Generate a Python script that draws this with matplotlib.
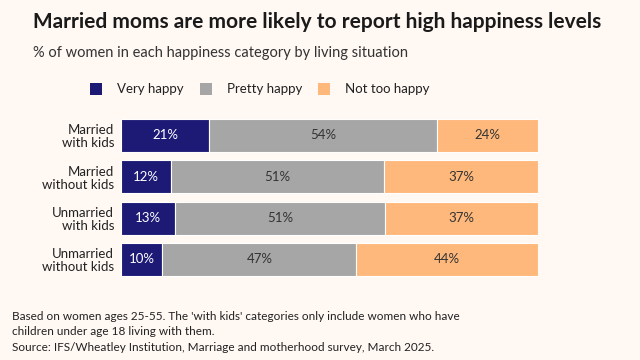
import numpy as np
import matplotlib.pyplot as plt
from matplotlib.patches import Rectangle

plt.rcParams["font.family"] = ["Lato", "DejaVu Sans"]

groups = ["Married\nwith kids", "Married\nwithout kids", "Unmarried\nwith kids", "Unmarried\nwithout kids"]
series = ["Very happy", "Pretty happy", "Not too happy"]
very_happy = [21, 12, 13, 10]
pretty_happy = [54, 51, 51, 47]
not_too_happy = [24, 37, 37, 44]

colors = ["#1d1a76", "#a6a6a6", "#ffb87b"]
text_colors = ["white", "#333333", "#333333"]
bg = "#fff8f3"

vals = np.array([very_happy, pretty_happy, not_too_happy], dtype=float)
shares = vals / vals.sum(axis=0) * 100  # rows drawn to full width

fig = plt.figure(figsize=(6.4, 3.6), dpi=100, facecolor=bg)
ax = fig.add_axes([0.189, 0.222, 0.652, 0.459])
ax.set_facecolor(bg)

y = np.arange(len(groups))
left = np.zeros(len(groups))
for i, name in enumerate(series):
    ax.barh(y, shares[i], left=left, height=0.8, color=colors[i],
            edgecolor="white", linewidth=0.8, label=name)
    for j in range(len(groups)):
        ax.text(left[j] + shares[i][j] / 2, y[j], f"{int(vals[i][j])}%",
                ha="center", va="center", fontsize=9.5, color=text_colors[i])
    left += shares[i]

ax.set_xlim(0, 100)
ax.set_ylim(len(groups) - 0.5, -0.5)
ax.set_yticks(y)
ax.set_yticklabels(groups, fontsize=9.5, color="#222222", linespacing=1.1)
ax.tick_params(axis="y", length=0, pad=5)
ax.set_xticks([])
for s in ax.spines.values():
    s.set_visible(False)

fig.text(0.052, 0.94, "Married moms are more likely to report high happiness levels",
         fontsize=15, fontweight="bold", color="#1a1a1a", va="center")
fig.text(0.052, 0.853, "% of women in each happiness category by living situation",
         fontsize=10.5, color="#333333", va="center")

# legend row
lx = [0.141, 0.313, 0.497]
for i, name in enumerate(series):
    fig.patches.append(Rectangle((lx[i], 0.735), 0.019, 0.034, transform=fig.transFigure,
                                 facecolor=colors[i], edgecolor="none"))
    fig.text(lx[i] + 0.042, 0.752, name, fontsize=9.5, color="#222222", va="center")

notes = ("Based on women ages 25-55. The 'with kids' categories only include women who have\n"
         "children under age 18 living with them.\n"
         "Source: IFS/Wheatley Institution, Marriage and motherhood survey, March 2025.")
fig.text(0.019, 0.078, notes, fontsize=8.5, color="#222222", va="center", linespacing=1.5)

fig.savefig("out.png", dpi=100, facecolor=bg)
